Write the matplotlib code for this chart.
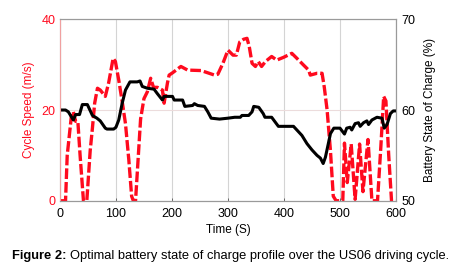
import matplotlib
matplotlib.use("Agg")
import matplotlib.pyplot as plt

plt.rcParams["font.family"] = ["Liberation Sans", "DejaVu Sans"]

# cycle speed (m/s) over time (s)
speed_time = [0, 10, 13, 21, 24, 28, 32, 36, 42, 48, 54, 58, 62, 67, 72, 81, 87, 95, 99,
              105, 111, 117, 123, 128, 131, 135, 139, 144, 150, 156, 162, 167, 174, 183,
              186, 192, 195, 201, 216, 228, 252, 276, 282, 291, 300, 309, 315, 321, 328,
              334, 338, 343, 349, 354, 360, 367, 378, 387, 399, 414, 423, 435, 444, 447,
              459, 468, 472, 477, 483, 488, 493, 505, 508, 513, 520, 527, 535, 541, 550,
              557, 567, 573, 578, 582, 587, 592, 600]
speed = [0, 0, 10, 19.3, 19.6, 17.5, 17.5, 10, 0, 0, 11, 16, 21.5, 24.8, 24.4, 23, 26,
         31.4, 30.7, 26.6, 22, 17, 9, 1, 0, 0, 8, 18, 22.5, 24, 27, 25, 25, 24.4, 21.5,
         26, 27.7, 28.2, 29.6, 28.8, 28.7, 27.7, 27.9, 30.3, 33.2, 32.1, 32.1, 35, 35.6,
         35.8, 34, 30.3, 29.6, 30.7, 29.6, 30.7, 31.8, 31, 31.6, 32.5, 31.4, 29.9, 28.8,
         27.7, 28.1, 28.1, 25, 20, 11, 1, 0, 0, 12.7, 4, 12.5, 0.3, 12.5, 2, 13.5, 0, 0,
         12, 23, 22, 10, 0, 0]

# battery state of charge (%) over time (s)
soc_time = [0, 10, 15, 24, 28, 35, 40, 49, 58, 66, 72, 81, 84, 96, 100, 105, 111, 117,
            125, 138, 143, 147, 156, 168, 174, 183, 186, 201, 204, 219, 223, 237, 240,
            246, 258, 264, 270, 285, 300, 312, 322, 325, 337, 343, 346, 355, 363, 366,
            378, 384, 390, 417, 423, 432, 441, 450, 459, 465, 470, 474, 483, 489, 500,
            508, 512, 518, 521, 527, 533, 536, 542, 548, 551, 557, 566, 575, 579, 584,
            590, 595, 600]
soc = [60, 60, 59.8, 58.9, 59.5, 59.5, 60.6, 60.6, 59.4, 59.1, 58.8, 58, 57.9, 57.9,
       58.1, 58.9, 60.7, 62.2, 63.1, 63.1, 63.2, 62.6, 62.4, 62.3, 61.8, 61.1, 61.5,
       61.5, 61.1, 61.1, 60.4, 60.5, 60.7, 60.5, 60.4, 59.8, 59.1, 59.0, 59.1, 59.2,
       59.2, 59.4, 59.4, 59.8, 60.4, 60.3, 59.6, 59.2, 59.2, 58.7, 58.2, 58.2, 57.8,
       57.2, 56.3, 55.6, 55.0, 54.7, 54.1, 54.8, 57.4, 58.0, 58.0, 57.35, 58.0, 58.1,
       57.8, 58.5, 58.6, 58.2, 58.6, 58.8, 58.4, 58.9, 59.2, 59.1, 58.0, 58.4, 59.6,
       59.9, 59.9]

fig = plt.figure(figsize=(4.61, 2.68), dpi=100)
ax = fig.add_axes([0.130, 0.251, 0.729, 0.677])
ax2 = ax.twinx()

red = "#ff0a1e"
ax.plot(speed_time, speed, color=red, lw=2.4, ls=(0, (3.2, 0.9)))
ax2.plot(soc_time, soc, color="black", lw=2.2)

ax.set_xlim(0, 600)
ax.set_ylim(0, 40)
ax2.set_ylim(50, 70)
ax.set_xticks(range(0, 601, 100))
ax.set_yticks([0, 20, 40])
ax2.set_yticks([50, 60, 70])

ax.grid(axis="x", color="#d4d4d4", lw=0.8)
ax.grid(axis="y", color="#ecdcdc", lw=0.8)
ax.set_axisbelow(True)

for a in (ax, ax2):
    a.tick_params(direction="in", length=2, width=0.6, labelsize=9, pad=3)
    for s in a.spines.values():
        s.set_color("#9a9a9a")
        s.set_linewidth(0.8)
ax2.spines["left"].set_color("#f0a0a0")
ax.tick_params(axis="y", colors=red, labelcolor=red)
ax.tick_params(axis="x", colors="#555555", labelcolor="black", pad=5)
ax2.tick_params(axis="y", colors="#555555", labelcolor="black", pad=4)

ax.set_xlabel("Time (S)", fontsize=8.5, labelpad=3)
ax.set_ylabel("Cycle Speed (m/s)", fontsize=8.5, color=red, labelpad=5)
ax2.set_ylabel("Battery State of Charge (%)", fontsize=8.5, labelpad=6)

# caption: bold prefix followed by plain text
cap1 = fig.text(0.027, 0.043, "Figure 2:", fontsize=9.3, fontweight="bold", va="center")
fig.canvas.draw()
bb = cap1.get_window_extent()
x2 = (bb.x1 + 3) / fig.bbox.width
fig.text(x2, 0.043, "Optimal battery state of charge profile over the US06 driving cycle.",
         fontsize=9.3, va="center")

fig.savefig("out.png", dpi=100)
